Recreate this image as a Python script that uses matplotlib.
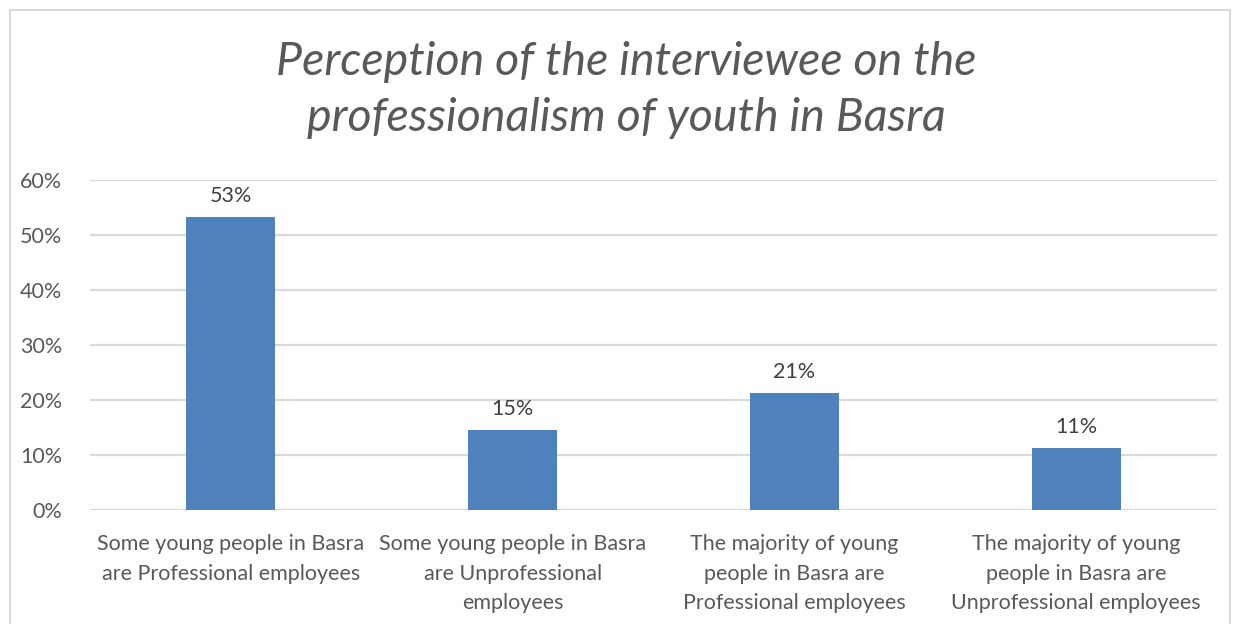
import matplotlib
matplotlib.use('Agg')
import matplotlib.pyplot as plt
from matplotlib.patches import Rectangle

plt.rcParams['font.family'] = ['Lato', 'DejaVu Sans']

categories = [
    'Some young people in Basra\nare Professional employees',
    'Some young people in Basra\nare Unprofessional\nemployees',
    'The majority of young\npeople in Basra are\nProfessional employees',
    'The majority of young\npeople in Basra are\nUnprofessional employees',
]
shares = [53.3, 14.6, 21.2, 11.2]
y_ticks = [0, 10, 20, 30, 40, 50, 60]
title = 'Perception of the interviewee on the\nprofessionalism of youth in Basra'

bar_color = '#4f81bd'
grid_color = '#d9d9d9'
text_color = '#595959'

fig = plt.figure(figsize=(12.41, 6.24), dpi=100)
ax = fig.add_axes([0.0725, 0.1827, 0.9082, 0.5288])

x = list(range(len(categories)))
bars = ax.bar(x, shares, width=0.316, color=bar_color, zorder=3)
for b, v in zip(bars, shares):
    ax.text(b.get_x() + b.get_width() / 2, v + 2.0, '{:.0f}%'.format(v),
            ha='center', va='bottom', fontsize=15.5, color='#404040')

ax.set_xlim(-0.5, len(categories) - 0.5)
ax.set_ylim(0, 60)
ax.set_yticks(y_ticks)
ax.set_yticklabels(['{}%'.format(t) for t in y_ticks])
ax.set_xticks(x)
ax.set_xticklabels(categories, linespacing=1.62)
ax.yaxis.grid(True, color=grid_color, linewidth=1.6, zorder=0)
ax.tick_params(axis='both', length=0, labelsize=15.5, labelcolor=text_color)
ax.tick_params(axis='x', pad=17)
ax.tick_params(axis='y', pad=20)
for s in ax.spines.values():
    s.set_visible(False)

fig.text(0.505, 0.856, title, ha='center', va='center', fontsize=33.5,
         style='italic', color=text_color, linespacing=1.42)

# light frame around the chart area
fig.patches.append(Rectangle((10, -20), 1220, 634, transform=None,
                             fill=False, edgecolor=grid_color, linewidth=1.5))

fig.savefig('out.png', dpi=100, facecolor='white')
